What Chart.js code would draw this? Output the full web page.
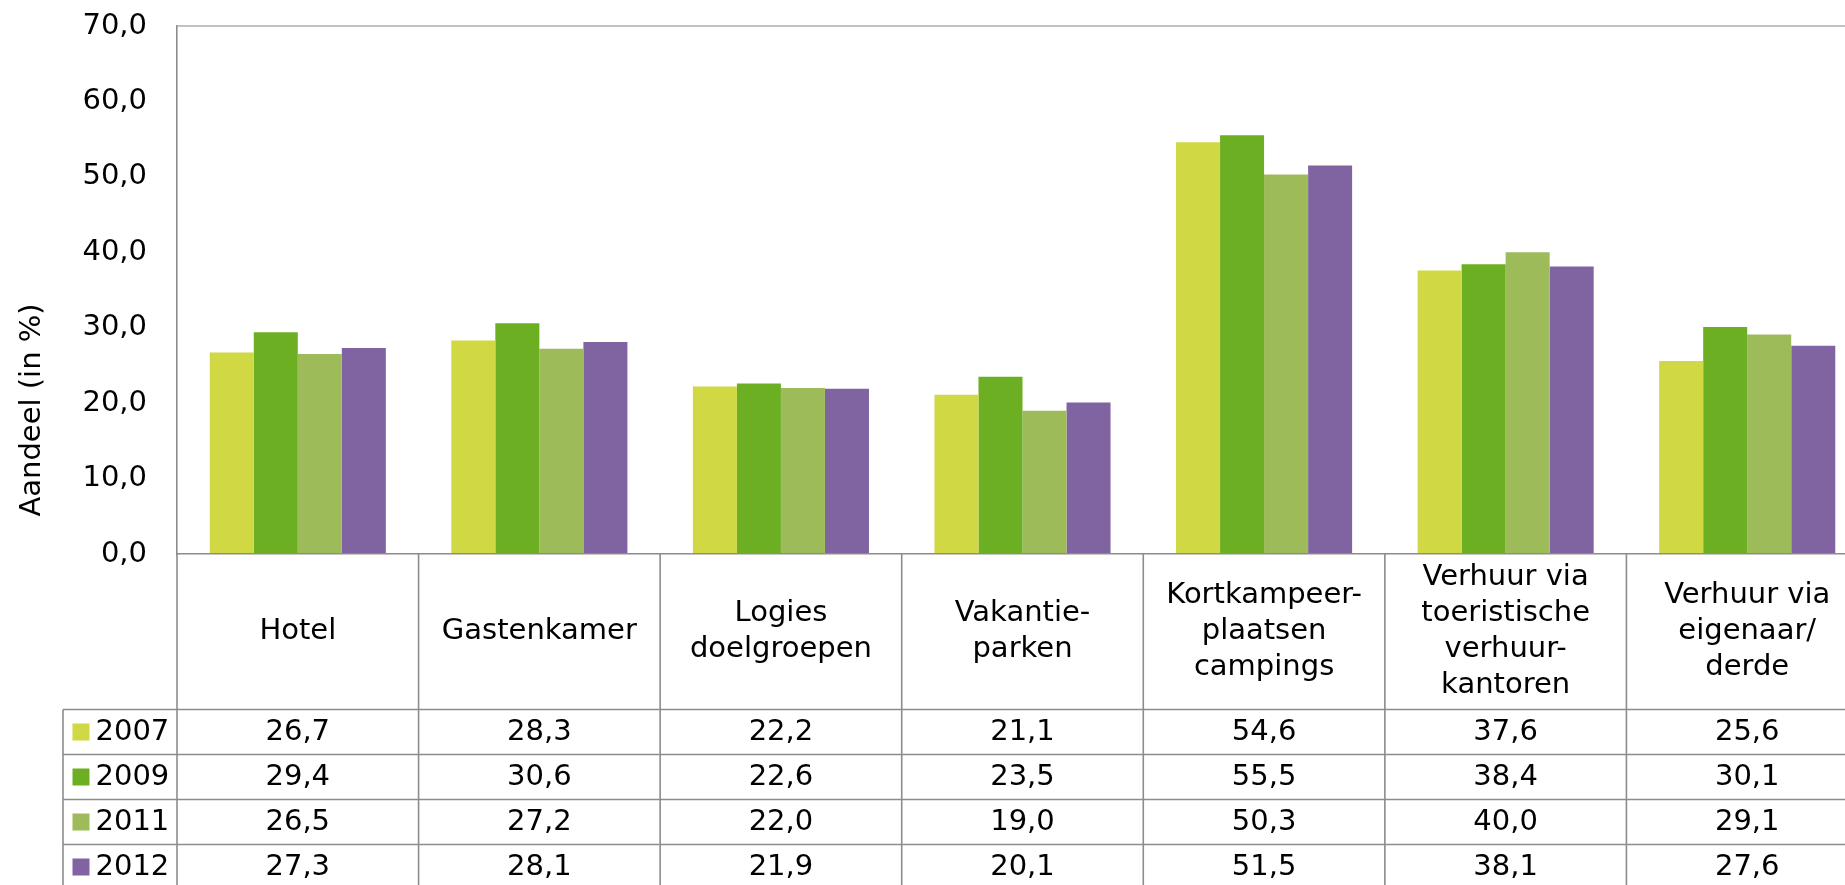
<!DOCTYPE html>
<html>
<head>
<meta charset="utf-8">
<script src="https://cdn.jsdelivr.net/npm/chart.js@4.4.1/dist/chart.umd.min.js"></script>
<style>
  html, body { margin: 0; padding: 0; background: #ffffff; overflow: hidden; }
  #wrap { width: 1845px; height: 885px; overflow: hidden; }
  canvas { display: block; }
</style>
</head>
<body>
<div id="wrap"><canvas id="chart" width="1868" height="885"></canvas></div>
<script>
// Accommodation types (one entry per line of the header cell)
const categories = [
  ['Hotel'],
  ['Gastenkamer'],
  ['Logies', 'doelgroepen'],
  ['Vakantie-', 'parken'],
  ['Kortkampeer-', 'plaatsen', 'campings'],
  ['Verhuur via', 'toeristische', 'verhuur-', 'kantoren'],
  ['Verhuur via', 'eigenaar/', 'derde']
];

const years = ['2007', '2009', '2011', '2012'];

// Share per accommodation type (in %)
const share2007 = [26.7, 28.3, 22.2, 21.1, 54.6, 37.6, 25.6];
const share2009 = [29.4, 30.6, 22.6, 23.5, 55.5, 38.4, 30.1];
const share2011 = [26.5, 27.2, 22.0, 19.0, 50.3, 40.0, 29.1];
const share2012 = [27.3, 28.1, 21.9, 20.1, 51.5, 38.1, 27.6];

const seriesValues = [share2007, share2009, share2011, share2012];
const seriesColors = ['#d0d843', '#6daf22', '#9dbb59', '#8064a2'];

const yMin = 0, yMax = 70, yStep = 10;
const yTitle = 'Aandeel (in %)';

const FONT = "'DejaVu Sans', Verdana, sans-serif";
const fmt = v => v.toFixed(1).replace('.', ',');

// Data table under the plot: category headers, legend keys and values
const dataTable = {
  id: 'dataTable',
  afterDraw(chart) {
    const ctx = chart.ctx;
    const xs = chart.scales.x;
    const area = chart.chartArea;
    const n = chart.data.labels.length;
    const half = (xs.getPixelForValue(1) - xs.getPixelForValue(0)) / 2;
    const top = area.bottom;
    const headerBottom = top + 155.5;
    const rowH = 45;
    const legendLeft = 63;
    const bottom = chart.height;
    const ds = chart.data.datasets;

    ctx.save();
    ctx.strokeStyle = '#8c8c8c';
    ctx.lineWidth = 1.6;

    // vertical column borders
    for (let i = 0; i <= n; i++) {
      const bx = i < n ? xs.getPixelForValue(i) - half : xs.getPixelForValue(n - 1) + half;
      ctx.beginPath();
      ctx.moveTo(bx, top);
      ctx.lineTo(bx, bottom);
      ctx.stroke();
    }
    ctx.beginPath();
    ctx.moveTo(legendLeft, headerBottom);
    ctx.lineTo(legendLeft, bottom);
    ctx.stroke();

    // horizontal row borders
    for (let r = 0; r <= ds.length; r++) {
      const y = headerBottom + r * rowH;
      ctx.beginPath();
      ctx.moveTo(legendLeft, y);
      ctx.lineTo(xs.getPixelForValue(n - 1) + half, y);
      ctx.stroke();
    }

    ctx.fillStyle = '#000000';
    ctx.font = '29px ' + FONT;
    ctx.textAlign = 'center';
    ctx.textBaseline = 'middle';

    // header cells
    const lineH = 36;
    const headerMid = (top + headerBottom) / 2;
    chart.data.labels.forEach((lines, i) => {
      const cx = xs.getPixelForValue(i);
      const y0 = headerMid - (lines.length - 1) * lineH / 2;
      lines.forEach((t, k) => ctx.fillText(t, cx, y0 + k * lineH));
    });

    // value rows with legend keys
    ds.forEach((d, r) => {
      const cy = headerBottom + r * rowH + rowH / 2;
      ctx.fillStyle = d.backgroundColor;
      ctx.fillRect(72.5, cy - 8.5, 17, 17);
      ctx.fillStyle = '#000000';
      ctx.textAlign = 'left';
      ctx.fillText(d.label, 95.5, cy);
      ctx.textAlign = 'center';
      d.data.forEach((v, i) => ctx.fillText(fmt(v), xs.getPixelForValue(i), cy));
    });
    ctx.restore();
  }
};

// Rotated title next to the value axis
const axisTitle = {
  id: 'axisTitle',
  afterDraw(chart) {
    const ctx = chart.ctx;
    ctx.save();
    ctx.translate(40, 410);
    ctx.rotate(-Math.PI / 2);
    ctx.fillStyle = '#000000';
    ctx.font = '29px ' + FONT;
    ctx.textAlign = 'center';
    ctx.textBaseline = 'alphabetic';
    ctx.fillText(yTitle, 0, 0);
    ctx.restore();
  }
};

new Chart(document.getElementById('chart'), {
  type: 'bar',
  data: {
    labels: categories,
    datasets: years.map((yr, k) => ({
      label: yr,
      data: seriesValues[k],
      backgroundColor: seriesColors[k],
      borderWidth: 0,
      categoryPercentage: 0.729,
      barPercentage: 1.0
    }))
  },
  options: {
    responsive: false,
    animation: false,
    devicePixelRatio: 1,
    layout: { padding: { left: 0, right: 0, top: 26, bottom: 0 } },
    plugins: {
      legend: { display: false },
      tooltip: { enabled: false },
      title: { display: false }
    },
    scales: {
      x: {
        ticks: { display: false },
        grid: { display: false, drawTicks: false },
        border: { display: true, color: '#8c8c8c', width: 1.6 },
        afterFit(scale) {
          scale.height = 331;
          scale.paddingLeft = 0;
          scale.paddingRight = 0;
        }
      },
      y: {
        min: yMin,
        max: yMax,
        ticks: {
          stepSize: yStep,
          padding: 30,
          color: '#000000',
          font: { family: FONT, size: 29 },
          callback: v => fmt(v)
        },
        grid: {
          drawTicks: false,
          lineWidth: 2,
          color: c => (c.tick && c.tick.value === yMax ? '#c2c2c2' : 'rgba(0,0,0,0)')
        },
        border: { display: true, color: '#8c8c8c', width: 1.6 },
        afterFit(scale) {
          scale.width = 177;
          scale.paddingTop = 0;
          scale.paddingBottom = 0;
        }
      }
    }
  },
  plugins: [dataTable, axisTitle]
});
</script>
</body>
</html>
